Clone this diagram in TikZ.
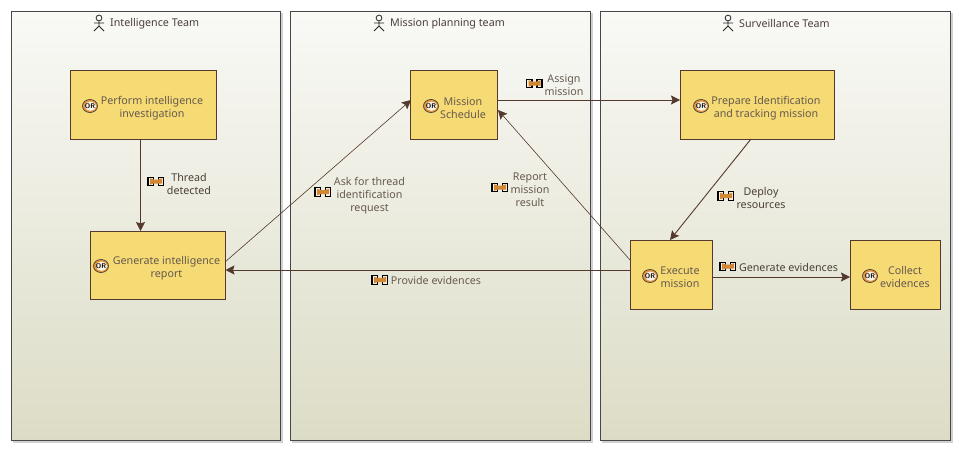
\documentclass[tikz,border=0pt]{standalone}
\usepackage{fontspec}
\setmainfont{Noto Sans}
\usetikzlibrary{arrows.meta}
\definecolor{linec}{HTML}{54392E}
\definecolor{textc}{HTML}{665A50}
\definecolor{darkt}{HTML}{4A4038}
\definecolor{boxf}{HTML}{F6DA74}
\definecolor{lanetop}{HTML}{F9F9F6}
\definecolor{lanebot}{HTML}{DCDCC6}
\definecolor{orangec}{HTML}{E8963A}
\tikzset{
  x=1pt,y=-1pt,
  lane/.style={draw=black!72,line width=1pt,top color=lanetop,bottom color=lanebot,anchor=north west,inner sep=0pt,minimum height=429pt},
  laneshadow/.style={fill=black!18},
  taskbox/.style={draw=linec,line width=0.9pt,fill=boxf,inner sep=0pt},
  tasktext/.style={text=textc,font=\fontsize{10.7}{13}\selectfont,align=center,inner sep=0pt},
  conntext/.style={text=textc,font=\fontsize{10.7}{13}\selectfont,align=center,inner sep=0pt},
  conndark/.style={text=darkt,font=\fontsize{10.7}{13}\selectfont,align=center,inner sep=0pt},
  lanetitle/.style={text=darkt,font=\fontsize{10.7}{13}\selectfont,anchor=west,inner sep=0pt},
  conn/.style={draw=linec,line width=0.9pt,-{Stealth[length=9pt,width=9pt,inset=1.5pt]}},
  thinconn/.style={draw=linec,line width=0.6pt,-{Stealth[length=9pt,width=9pt,inset=1.5pt]}},
  orbadge/.pic={
    \draw[draw=black!75,line width=0.7pt,fill=orangec] (0,0) ellipse (7.5 and 6.5);
    \fill[white!88!orangec] (0.5,0.2) ellipse (5.6 and 4.7);
    \node[inner sep=0pt,text=black,font=\fontsize{6.8}{7}\sffamily\bfseries] {OR};
  },
  keyicon/.pic={
    \draw[black,line width=1.2pt,fill=white!85!orangec] (0,-4.3) rectangle (5.5,4.3);
    \draw[black,line width=1.2pt,fill=white!85!orangec] (10.5,-4.3) rectangle (15.5,4.3);
    \fill[orangec!90!black] (2,-3.2) -- (6,-2) -- (10,-2) -- (14,-3.2) -- (14,2.2) -- (10,2) -- (6,2) -- (2,3.2) -- cycle;
  },
  actorman/.pic={
    \draw[black!85,line width=0.8pt] (0,-5) circle (2.9);
    \draw[black!85,line width=0.8pt] (0,-2.1) -- (0,3) (-5,0) -- (5,0) (-5,8) -- (0,3) -- (5,8);
  }
}
\begin{document}
\begin{tikzpicture}
\useasboundingbox (0,0) rectangle (963,453);
\fill[white] (0,0) rectangle (963,453);
% lanes
\fill[laneshadow] (13,13) rectangle (282.5,443);
\fill[laneshadow] (292,13) rectangle (592.5,443);
\fill[laneshadow] (602,13) rectangle (952.5,443);
\node[lane,minimum width=269pt] (laneA) at (10.5,11) {};
\node[lane,minimum width=299.5pt] (laneB) at (290,11) {};
\node[lane,minimum width=349.5pt] (laneC) at (600,11) {};
\pic at (99,23) {actorman};
\node[lanetitle] (titleA) at (110,23.5) {Intelligence Team};
\pic at (379,23) {actorman};
\node[lanetitle] (titleB) at (390,23.5) {Mission planning team};
\pic at (728,23) {actorman};
\node[lanetitle] (titleC) at (739,23.5) {Surveillance Team};
% tasks
\node[taskbox,minimum width=146pt,minimum height=69pt] (perform) at (143,104.5) {};
\node[taskbox,minimum width=135pt,minimum height=68pt] (generate) at (157.5,265) {};
\node[taskbox,minimum width=87pt,minimum height=69pt] (schedule) at (453.5,104.5) {};
\node[taskbox,minimum width=154pt,minimum height=69pt] (prepare) at (757,104.5) {};
\node[taskbox,minimum width=82pt,minimum height=69pt] (execute) at (671,274.5) {};
\node[taskbox,minimum width=90pt,minimum height=69pt] (collect) at (895,274.5) {};
\node[tasktext] (performt) at (152,108.2) {Perform intelligence\\investigation};
\node[tasktext] (generatet) at (166.5,268.2) {Generate intelligence\\report};
\node[tasktext] (schedulet) at (463,107.7) {Mission\\Schedule};
\node[tasktext] (preparet) at (766,108.2) {Prepare Identification\\and tracking mission};
\node[tasktext] (executet) at (680,277.2) {Execute\\mission};
\node[tasktext] (collectt) at (905,276.7) {Collect\\evidences};
\pic at (90,106) {orbadge};
\pic at (101,266) {orbadge};
\pic at (431,106) {orbadge};
\pic at (701,106) {orbadge};
\pic at (650,276) {orbadge};
\pic at (870,276) {orbadge};
% connector ends
\coordinate (p1) at (140.5,139);
\coordinate (g1) at (140.5,231);
\coordinate (g2) at (225,262);
\coordinate (s2) at (411,100);
\coordinate (s3) at (497,100);
\coordinate (pr3) at (680,100);
\coordinate (pr4) at (751,139);
\coordinate (e4) at (670,240);
\coordinate (e5) at (630,260);
\coordinate (s5) at (498,110);
\coordinate (e6) at (630,270);
\coordinate (g6) at (225.5,270);
\coordinate (e7) at (712,277);
\coordinate (c7) at (850,277);
\draw[conn] (p1) -- (g1);
\draw[thinconn] (g2) -- (s2);
\draw[conn] (s3) -- (pr3);
\draw[conn] (pr4) -- (e4);
\draw[thinconn] (e5) -- (s5);
\draw[conn] (e6) -- (g6);
\draw[conn] (e7) -- (c7);
% labels
\node[conndark] (l1) at (189,183.7) {Thread\\detected};
\pic at (148,181.5) {keyicon};
\node[conntext] (l2) at (369.5,195.7) {Ask for thread\\identification\\request};
\pic at (315,192) {keyicon};
\node[conntext] (l3) at (564,85.2) {Assign\\mission};
\pic at (526.5,83.5) {keyicon};
\node[conntext] (l4) at (530,190) {Report\\mission\\result};
\pic at (492,187.5) {keyicon};
\node[conndark] (l5) at (761,197.7) {Deploy\\resources};
\pic at (718,196) {keyicon};
\node[conntext] (l6) at (436,280.2) {Provide evidences};
\pic at (372,280) {keyicon};
\node[conndark] (l7) at (788.5,267.2) {Generate evidences};
\pic at (720,266.5) {keyicon};
\end{tikzpicture}
\end{document}
